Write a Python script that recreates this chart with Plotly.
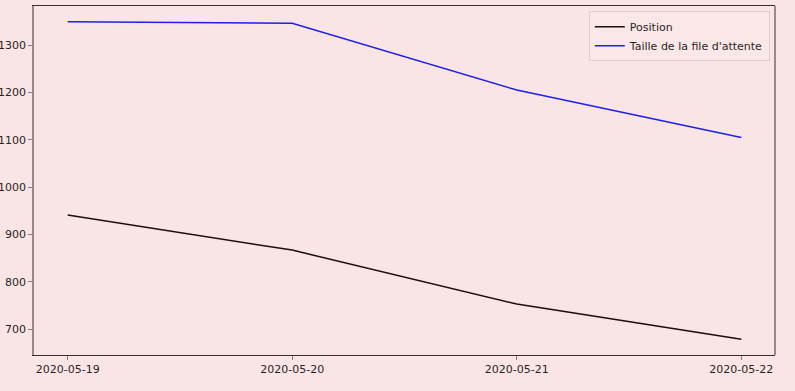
import plotly.graph_objects as go
import pandas as pd

dates = ["2020-05-19", "2020-05-20", "2020-05-21", "2020-05-22"]
position = [941, 867, 753, 679]
queue_size = [1349, 1346, 1205, 1105]
y_ticks = [700, 800, 900, 1000, 1100, 1200, 1300]

bg = "#f9e5e5"
spine = "#3d2a2a"
text_col = "#2b1f1f"

fig = go.Figure()
fig.add_trace(go.Scatter(x=dates, y=position, mode="lines", name="Position",
                         line=dict(color="#1c0e0e", width=1.5)))
fig.add_trace(go.Scatter(x=dates, y=queue_size, mode="lines", name="Taille de la file d'attente",
                         line=dict(color="#1e1ef0", width=1.5)))

d = pd.to_datetime(dates)
span = d.max() - d.min()
xr = [d.min() - span * 0.05, d.max() + span * 0.05]
allv = position + queue_size
ys = max(allv) - min(allv)
yr = [min(allv) - ys * 0.05, max(allv) + ys * 0.05]

fig.update_layout(
    width=795, height=391,
    margin=dict(l=34, r=20, t=6, b=36),
    paper_bgcolor=bg, plot_bgcolor=bg,
    font=dict(family="DejaVu Sans", size=11, color=text_col),
    showlegend=True,
    legend=dict(x=0.993, y=0.985, xanchor="right", yanchor="top",
                bgcolor="rgba(250,232,232,0.8)", bordercolor="#e0cccc", borderwidth=1,
                itemwidth=30, font=dict(size=11, color=text_col), tracegroupgap=0),
    xaxis=dict(type="date", range=xr, tickvals=dates, ticktext=dates,
               showgrid=False, zeroline=False, showline=True, linecolor=spine, linewidth=1,
               mirror=True, ticks="outside", ticklen=4, tickcolor="#8a7a7a", automargin=False),
    yaxis=dict(range=yr, tickvals=y_ticks, showgrid=False, zeroline=False,
               showline=True, linecolor="#9a8686", linewidth=1.5,
               ticks="outside", ticklen=4, tickcolor="#8a7a7a", automargin=False),
)
fig.add_shape(type="line", xref="paper", yref="paper", x0=1, x1=1, y0=0, y1=1,
              line=dict(color=spine, width=1))
fig.write_html("out.html", config={"displayModeBar": False},
               post_script="document.body.style.margin='0';document.body.style.background='%s';" % bg)
